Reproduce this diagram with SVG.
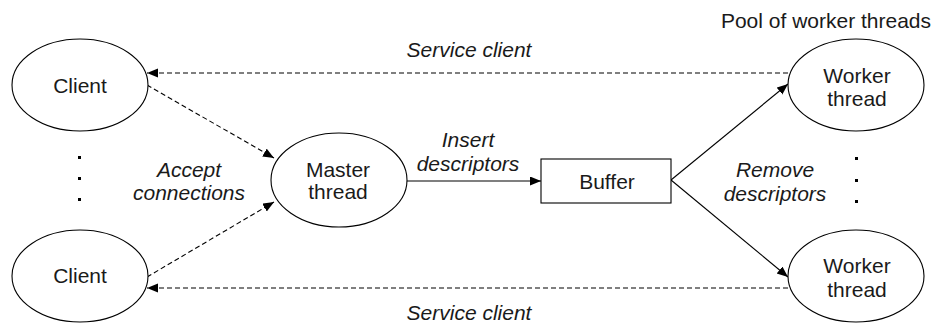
<svg xmlns="http://www.w3.org/2000/svg" width="938" height="325" viewBox="0 0 938 325">
<style>
.n{fill:#fff;stroke:#000;stroke-width:1.1}
.t{font-family:"Liberation Sans",Arial,sans-serif;font-size:21px;fill:#1a1a1a;text-anchor:middle}
.i{font-style:italic}
.d{stroke:#000;stroke-width:1.1;fill:none;stroke-dasharray:5,3}
.s{stroke:#000;stroke-width:1.1;fill:none}
</style>
<defs>
<marker id="ah" markerUnits="userSpaceOnUse" markerWidth="12" markerHeight="10" refX="11" refY="4.5" orient="auto">
<path d="M0,0 L11,4.5 L0,9 z" fill="#000"/>
</marker>
</defs>
<g id="connectors">
<line class="d" x1="788" y1="73" x2="147" y2="73" marker-end="url(#ah)"/>
<line class="d" x1="788" y1="288" x2="147" y2="288" marker-end="url(#ah)"/>
<line class="d" x1="147" y1="85" x2="274" y2="158" marker-end="url(#ah)"/>
<line class="d" x1="147" y1="277" x2="274" y2="202" marker-end="url(#ah)"/>
<line class="s" x1="407" y1="181" x2="541" y2="181" marker-end="url(#ah)"/>
<line class="s" x1="671" y1="180" x2="788" y2="84" marker-end="url(#ah)"/>
<line class="s" x1="671" y1="180" x2="788" y2="277" marker-end="url(#ah)"/>
<text class="t i" x="469" y="57">Service client</text>
<text class="t i" x="469" y="320">Service client</text>
<text class="t i" x="189" y="177">Accept</text>
<text class="t i" x="189" y="200">connections</text>
<text class="t i" x="468" y="147">Insert</text>
<text class="t i" x="468" y="171">descriptors</text>
<text class="t i" x="775" y="177">Remove</text>
<text class="t i" x="775" y="201">descriptors</text>
</g>
<g id="client1">
<ellipse class="n" cx="80" cy="85" rx="68" ry="46"/>
<text class="t" x="80" y="93">Client</text>
</g>
<g id="client2">
<ellipse class="n" cx="80" cy="276" rx="68" ry="46"/>
<text class="t" x="80" y="283">Client</text>
</g>
<g id="dots-left" fill="#000">
<rect x="78" y="156" width="3" height="3"/>
<rect x="78" y="177" width="3" height="3"/>
<rect x="78" y="198" width="3" height="3"/>
</g>
<g id="master">
<ellipse class="n" cx="339" cy="180" rx="68" ry="47"/>
<text class="t" x="338" y="177">Master</text>
<text class="t" x="338" y="199">thread</text>
</g>
<g id="buffer">
<rect class="n" x="541" y="159" width="130" height="44"/>
<text class="t" x="607" y="189">Buffer</text>
</g>
<g id="pool">
<text class="t" x="826" y="28">Pool of worker threads</text>
</g>
<g id="worker1">
<ellipse class="n" cx="856" cy="85" rx="68" ry="46"/>
<text class="t" x="857" y="83">Worker</text>
<text class="t" x="857" y="106">thread</text>
</g>
<g id="worker2">
<ellipse class="n" cx="856" cy="276" rx="68" ry="46"/>
<text class="t" x="857" y="273">Worker</text>
<text class="t" x="857" y="297">thread</text>
</g>
<g id="dots-right" fill="#000">
<rect x="855" y="157" width="3" height="3"/>
<rect x="855" y="179" width="3" height="3"/>
<rect x="855" y="200" width="3" height="3"/>
</g>
</svg>
